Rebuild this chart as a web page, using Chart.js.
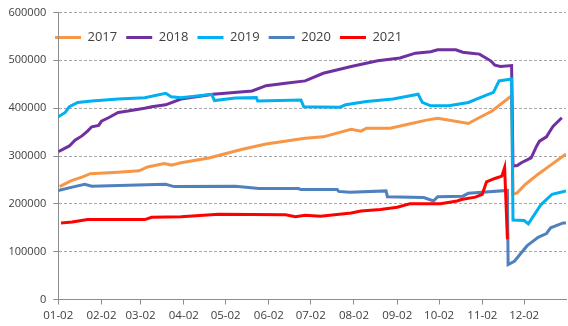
<!DOCTYPE html>
<html>
<head>
<meta charset="utf-8">
<script src="https://cdn.jsdelivr.net/npm/chart.js@4"></script>
<style>
  body { margin: 0; background: #fff; }
</style>
</head>
<body>
<canvas id="chart" width="568" height="326"></canvas>
<script>
// x = days after 01-02, y = values
const monthDays = [0, 31, 59, 90, 120, 151, 181, 212, 243, 273, 304, 334];
const monthLabels = ['01-02', '02-02', '03-02', '04-02', '05-02', '06-02', '07-02', '08-02', '09-02', '10-02', '11-02', '12-02'];

const days2017 = [1, 9, 17, 23, 43, 58, 64, 76, 81, 88, 108, 132, 149, 177, 190, 210, 217, 221, 238, 250, 264, 272, 294, 301, 311, 325, 326, 329, 335, 344, 354, 362, 364];
const vals2017 = [236000, 248000, 256000, 263000, 266000, 269000, 277000, 284000, 281000, 286000, 296000, 314000, 325000, 337000, 340000, 356000, 352000, 358000, 358000, 366000, 375000, 379000, 368000, 379000, 394000, 426000, 220000, 223000, 241000, 262000, 283000, 300000, 304000];

const days2018 = [0, 8, 12, 17, 21, 24, 29, 31, 36, 43, 50, 62, 67, 77, 88, 111, 139, 149, 163, 177, 190, 210, 229, 245, 256, 267, 272, 285, 290, 296, 302, 310, 313, 317, 325, 326, 329, 332, 339, 343, 345, 350, 354, 355, 361];
const vals2018 = [309000, 321000, 333000, 342000, 352000, 361000, 364000, 373000, 380000, 391000, 394000, 400000, 403000, 407000, 419000, 429000, 436000, 447000, 452000, 457000, 473000, 487000, 499000, 505000, 515000, 518000, 522000, 522000, 517000, 515000, 513000, 499000, 490000, 487000, 489000, 279000, 280000, 286000, 296000, 321000, 331000, 340000, 359000, 363000, 380000];

const days2019 = [0, 5, 8, 14, 24, 43, 62, 77, 81, 88, 110, 112, 127, 142, 143, 174, 176, 202, 206, 221, 240, 258, 261, 267, 280, 294, 306, 312, 316, 325, 326, 334, 337, 346, 354, 364];
const vals2019 = [382000, 391000, 403000, 412000, 415000, 419000, 422000, 431000, 424000, 422000, 429000, 416000, 421000, 422000, 415000, 417000, 403000, 402000, 407000, 414000, 419000, 429000, 412000, 405000, 405000, 412000, 426000, 433000, 457000, 461000, 166000, 165000, 158000, 198000, 220000, 227000];

const days2020 = [0, 10, 19, 24, 50, 77, 83, 127, 144, 172, 174, 200, 201, 209, 235, 236, 262, 269, 272, 290, 294, 322, 322.5, 327, 336, 344, 350, 353, 362, 364];
const vals2020 = [228000, 235000, 241000, 237000, 239000, 241000, 236000, 237000, 232000, 232000, 230000, 230000, 226000, 224000, 227000, 215000, 213000, 206000, 215000, 216000, 222000, 228000, 73000, 80000, 112000, 130000, 138000, 150000, 160000, 160000];

const days2021 = [2, 10, 21, 62, 67, 88, 115, 163, 170, 177, 188, 210, 217, 231, 243, 252, 274, 286, 289, 299, 304, 307, 313, 318, 320, 322];
const vals2021 = [160000, 162000, 167000, 167000, 172000, 173000, 178000, 177000, 173000, 176000, 174000, 181000, 185000, 188000, 193000, 200000, 200000, 206000, 209000, 214000, 220000, 246000, 253000, 258000, 276000, 126000];

const axisGrey = '#8c8c8c';
const gridGrey = '#a6a6a6';
const textGrey = '#404040';

function series(label, days, vals, color, order) {
  return {
    label: label,
    data: days.map((d, i) => ({ x: d, y: vals[i] })),
    borderColor: color,
    backgroundColor: color,
    borderWidth: 3,
    pointRadius: 0,
    tension: 0,
    order: order,
  };
}

// legend sits inside the plot, so it takes no room in the layout
const legendInside = {
  id: 'legendInside',
  beforeInit(chart) {
    const fit = chart.legend.fit;
    chart.legend.fit = function () {
      fit.call(this);
      this.height = 0;
    };
  },
  afterLayout(chart) {
    const lg = chart.legend;
    lg.left = 46;
    lg.right = 560;
    lg.top = 22;
    lg.bottom = 56;
    lg.width = lg.right - lg.left;
    lg.height = lg.bottom - lg.top;
  },
};

new Chart(document.getElementById('chart'), {
  type: 'line',
  data: {
    datasets: [
      series('2017', days2017, vals2017, '#F79646', 5),
      series('2018', days2018, vals2018, '#7030A0', 4),
      series('2019', days2019, vals2019, '#00B0F0', 3),
      series('2020', days2020, vals2020, '#4F81BD', 2),
      series('2021', days2021, vals2021, '#FF0000', 1),
    ],
  },
  options: {
    responsive: false,
    animation: false,
    layout: { padding: { left: 1.5, right: 2, top: 0, bottom: 0 } },
    plugins: {
      legend: {
        display: true,
        position: 'top',
        align: 'start',
        labels: {
          usePointStyle: true,
          pointStyle: 'line',
          pointStyleWidth: 26,
          padding: 9,
          color: textGrey,
          font: { family: 'Open Sans', size: 13 },
          sort: (a, b) => a.datasetIndex - b.datasetIndex,
        },
      },
      tooltip: { enabled: false },
    },
    scales: {
      x: {
        type: 'linear',
        min: 0,
        max: 364,
        afterBuildTicks: (axis) => {
          axis.ticks = monthDays.map((d) => ({ value: d }));
        },
        ticks: {
          autoSkip: false,
          maxRotation: 0,
          padding: 5,
          color: textGrey,
          font: { family: 'Open Sans', size: 11.5, lineHeight: 1 },
          callback: (v, i) => monthLabels[i],
        },
        grid: { drawOnChartArea: false, tickLength: 5, color: axisGrey },
        border: { color: axisGrey, width: 1 },
      },
      y: {
        min: 0,
        max: 600000,
        ticks: {
          stepSize: 100000,
          padding: 7,
          color: textGrey,
          font: { family: 'Open Sans', size: 11, lineHeight: 1 },
          callback: (v) => String(v),
        },
        grid: { color: gridGrey, tickColor: axisGrey, tickLength: 5 },
        border: { color: axisGrey, width: 1, dash: [3, 2] },
      },
    },
  },
  plugins: [legendInside],
});
</script>
</body>
</html>
